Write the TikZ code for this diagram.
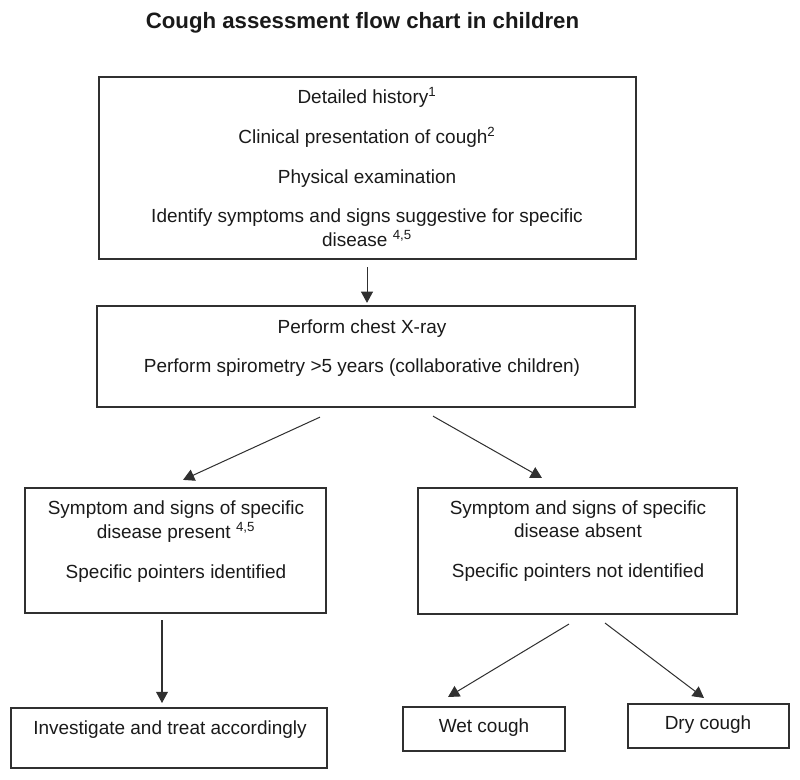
\documentclass[tikz,border=0pt]{standalone}
\usepackage{fontspec}
\setmainfont{Liberation Sans}
\usetikzlibrary{arrows.meta}
\usetikzlibrary{calc}
\definecolor{CAInk}{RGB}{26,26,26}
\definecolor{CAFrame}{RGB}{48,48,48}

\begin{document}
\begin{tikzpicture}[
x=0.025cm,
y=-0.025cm,
every node/.style={text=CAInk,outer sep=0pt},
chartTitle/.style={font=\fontsize{15.8}{19}\selectfont\bfseries,inner sep=0pt},
stage/.style={draw=CAFrame,fill=white,line width=1.05pt,inner sep=0pt},
stageText/.style={font=\fontsize{13.5}{17}\selectfont,align=center,inner sep=0pt},
stageflow/.style={-{Triangle[length=8pt,width=8.5pt]},line width=0.72pt,draw=CAFrame}
]

\path[use as bounding box] (0,0) rectangle (800,779);

\node[chartTitle,anchor=base] (title) at (362.5,28.5) {Cough assessment flow chart in children};

\node[stage,minimum width=13.43cm,minimum height=4.55cm] (hist) at (367.5,168) {};
\node[stage,minimum width=13.45cm,minimum height=2.53cm] (xray) at (366,356.5) {};
\node[stage,minimum width=7.53cm,minimum height=3.13cm] (present) at (175.5,550.5) {};
\node[stage,minimum width=7.98cm,minimum height=3.15cm] (absent) at (577.5,551) {};
\node[stage,minimum width=7.90cm,minimum height=1.50cm] (treat) at (169,738) {};
\node[stage,minimum width=4.05cm,minimum height=1.10cm] (wet) at (484,729) {};
\node[stage,minimum width=4.03cm,minimum height=1.10cm] (dry) at (708.5,726) {};

\node[stageText] (histText) at (367,167) {Detailed history\textsuperscript{1}\\[11.4pt]
Clinical presentation of cough\textsuperscript{2}\\[11.4pt]
Physical examination\\[10.5pt]
Identify symptoms and signs suggestive for specific\\
disease \textsuperscript{4,5}};
\node[stageText] (xrayText) at (362,348) {Perform chest X-ray\\[10.5pt]
Perform spirometry >5 years (collaborative children)};
\node[stageText] (presentText) at (176,541.5) {Symptom and signs of specific\\
disease present \textsuperscript{4,5}\\[11.4pt]
Specific pointers identified};
\node[stageText] (absentText) at (578,541) {Symptom and signs of specific\\
disease absent\\[11.4pt]
Specific pointers not identified};
\node[stageText] (treatText) at (170,729.6) {Investigate and treat accordingly};
\node[stageText] (wetText) at (484,727.5) {Wet cough};
\node[stageText] (dryText) at (708,724.5) {Dry cough};

\draw[stageflow] ($(hist.south)+(-0.5,8)$) -- ($(xray.north)+(1,-3)$);
\draw[stageflow] ($(xray.south)+(-46,10)$) -- ($(present.north)+(7.5,-8)$);
\draw[stageflow] ($(xray.south)+(67,9)$) -- ($(absent.north)+(-35.5,-10)$);
\draw[stageflow] ($(present.south)+(-13.5,7)$) -- ($(treat.north)+(-7,-5)$);
\draw[stageflow] ($(absent.south)+(-8.5,10)$) -- ($(wet.north)+(-36,-10)$);
\draw[stageflow] ($(absent.south)+(27.5,9)$) -- ($(dry.north)+(-4.5,-6)$);

\end{tikzpicture}
\end{document}
